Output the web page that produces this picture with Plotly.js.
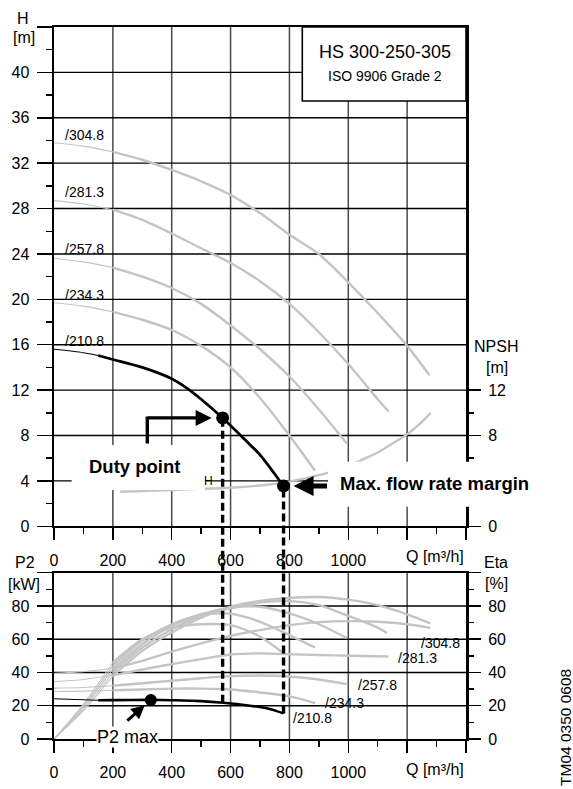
<!DOCTYPE html>
<html><head><meta charset="utf-8">
<script src="https://cdn.plot.ly/plotly-3.0.1.min.js"></script>
<style>html,body{margin:0;padding:0;background:#fff}#chart{width:573px;height:789px}</style>
</head><body><div id="chart"></div>
<script>
// ---------- DATA ----------
const impellerLabels = ['/304.8','/281.3','/257.8','/234.3','/210.8'];
const xTickVals = [0,200,400,600,800,1000,1200,1400];
const xTickText = ['0','200','400','600','800','1000','',''];
const hTicks = [0,4,8,12,16,20,24,28,32,36,40,44];
const npshTicks = [0,8,12];
const pTicks = [0,20,40,60,80,100];

// Head H [m]
const Q_h304 = [0,100,200,300,400,500,600,700,800,900,1000,1100,1200,1276];
const H_304  = [33.8,33.5,33.0,32.3,31.4,30.4,29.2,27.6,25.7,24.0,21.5,18.8,15.9,13.3];
const Q_h281 = [0,100,200,300,400,500,600,700,800,900,1000,1100,1137];
const H_281  = [28.7,28.4,27.9,27.0,25.8,24.5,23.2,21.6,19.6,17.1,14.3,11.2,10.1];
const Q_h258 = [0,100,200,300,400,500,600,700,800,900,995];
const H_258  = [23.6,23.3,22.8,22.0,21.0,19.6,17.7,15.6,13.2,10.3,7.3];
const Q_h234 = [0,100,200,300,400,500,600,700,800,887];
const H_234  = [19.7,19.4,18.9,18.2,17.3,15.9,14.0,11.3,8.0,4.9];
const Q_h211 = [0,100,150,200,300,400,450,500,575,650,700,780];
const H_211  = [15.6,15.3,15.05,14.7,14.0,13.0,12.2,11.2,9.5,7.6,6.3,3.55];

// NPSH [m]
const Q_npsh = [225,300,400,500,600,700,780,850,930,1000,1050,1100,1150,1200,1250,1280];
const NPSH   = [3.05,3.1,3.2,3.3,3.4,3.6,3.85,4.2,4.7,5.3,5.9,6.5,7.3,8.1,9.2,10.0];

// P2 [kW]
const Q_p304 = [0,100,200,300,400,500,600,700,800,900,1000,1100,1200,1279];
const P2_304 = [39.5,40.5,42.5,47,52.5,57.5,62,65.5,68.5,70.3,70.9,70.5,69,66.8];
const Q_p281 = [0,100,200,300,400,500,600,700,800,900,1000,1137];
const P2_281 = [34.6,35.8,38.3,41.8,45,48,50.8,51.5,51,50.5,50.1,49.6];
const Q_p258 = [0,100,200,300,400,500,600,700,800,900,995];
const P2_258 = [30.6,31,32,33.5,35,36.5,37.8,38.2,37.6,35.8,33];
const Q_p234 = [0,100,200,300,400,500,600,700,800,887];
const P2_234 = [28.6,28.8,29.3,29.8,30.3,30.3,29.8,28,25.6,21.6];
const Q_p211 = [0,100,150,200,330,400,500,575,666,720,780];
const P2_211 = [24.2,23.6,23.3,23.4,23.5,23.3,22.8,21.8,20,18.6,15.4];

// Eta [%]
const Q_e304 = [0,100,200,300,400,500,600,700,800,900,1000,1100,1200,1279];
const ETA_304 = [0,17,38,53,64,73,79.5,83,84.8,85.4,83.8,80.5,75,69.5];
const Q_e281 = [0,100,200,300,400,500,600,700,800,900,1000,1100,1131];
const ETA_281 = [0,18,40,55,66,74,78.5,82,83,80.5,74,67,63.8];
const Q_e258 = [0,100,200,300,400,500,600,700,800,900,995];
const ETA_258 = [0,19,42,57,68,75,79,79.5,75.5,69,60.7];
const Q_e234 = [0,100,200,300,400,500,600,700,800,887];
const ETA_234 = [0,20,44,59,69,74.5,75.3,70.5,62.5,55];
const Q_e211 = [0,100,200,300,400,500,600,700,780];
const ETA_211 = [0,21,46,60,67,69,68.5,61.5,51.6];

// Marked points: duty point, max. flow rate margin
const markQ  = [573, 780];
const markH  = [9.55, 3.55];
const markP2 = [21.8, 15.4];
const p2maxQ = [329];
const p2maxP = [23.5];

// ---------- LAYOUT HELPERS ----------
const W=573, HT=789, ML=54, MR=107, MT=27, MB=50;
const PW=W-ML-MR, PH=HT-MT-MB;
const px = v => (v-ML)/PW;
const py = v => (HT-MB-v)/PH;
const topDom = [py(526.3), 1];
const botDom = [0, py(572.7)];
const H_MAX = 44, P_MAX = 100, Q_MAX = 1400;
const topP = h => topDom[0] + h/H_MAX*(topDom[1]-topDom[0]);
const botP = p => botDom[0] + p/P_MAX*(botDom[1]-botDom[0]);

const GRAY = '#c4c4c4', BLACK = '#000';
const FONT = 'Liberation Sans, Arial, sans-serif';
const traces = [];

// grid lines as line traces built from the tick arrays (one trace per line)
function gridTraces(xa, ya, yTicks, yMax) {
  xTickVals.filter(v => v>0 && v<Q_MAX).forEach(v => {
    traces.push({x:[v,v], y:[0,yMax], xaxis:xa, yaxis:ya, mode:'lines', line:{color:'#4a4a4a', width:1.5}, hoverinfo:'skip'});
  });
  yTicks.filter(v => v>0 && v<yMax).forEach(v => {
    traces.push({x:[0,Q_MAX], y:[v,v], xaxis:xa, yaxis:ya, mode:'lines', line:{color:'#000', width:1.4}, hoverinfo:'skip'});
  });
}
gridTraces('x','y',hTicks,H_MAX);
gridTraces('x2','y2',pTicks,P_MAX);

function curve(q, v, xa, ya, color, splitQ, wThick) {
  let i = q.findIndex(x => x >= splitQ);
  traces.push({x:q.slice(0,i+1), y:v.slice(0,i+1), xaxis:xa, yaxis:ya, mode:'lines',
    line:{color:color, width:1.1, shape:'spline', smoothing:0.8}, hoverinfo:'skip'});
  traces.push({x:q.slice(i), y:v.slice(i), xaxis:xa, yaxis:ya, mode:'lines',
    line:{color:color, width:wThick, shape:'spline', smoothing:0.8}, hoverinfo:'skip'});
}
// Head
curve(Q_h304,H_304,'x','y',GRAY,200,2.4);
curve(Q_h281,H_281,'x','y',GRAY,200,2.4);
curve(Q_h258,H_258,'x','y',GRAY,200,2.4);
curve(Q_h234,H_234,'x','y',GRAY,200,2.4);
traces.push({x:Q_npsh,y:NPSH,xaxis:'x',yaxis:'y',mode:'lines',line:{color:GRAY,width:2.4,shape:'spline'},hoverinfo:'skip'});
curve(Q_h211,H_211,'x','y',BLACK,150,2.8);
// Bottom: eta then P2
curve(Q_e304,ETA_304,'x2','y2',GRAY,200,2.4);
curve(Q_e281,ETA_281,'x2','y2',GRAY,200,2.4);
curve(Q_e258,ETA_258,'x2','y2',GRAY,200,2.4);
curve(Q_e234,ETA_234,'x2','y2',GRAY,200,2.4);
curve(Q_e211,ETA_211,'x2','y2',GRAY,200,2.4);
curve(Q_p304,P2_304,'x2','y2',GRAY,200,2.4);
curve(Q_p281,P2_281,'x2','y2',GRAY,200,2.4);
curve(Q_p258,P2_258,'x2','y2',GRAY,200,2.4);
curve(Q_p234,P2_234,'x2','y2',GRAY,200,2.4);
curve(Q_p211,P2_211,'x2','y2',BLACK,150,2.6);
// markers
traces.push({x:markQ,y:markH,xaxis:'x',yaxis:'y',mode:'markers',marker:{color:BLACK,size:13},hoverinfo:'skip',cliponaxis:false});
traces.push({x:p2maxQ,y:p2maxP,xaxis:'x2',yaxis:'y2',mode:'markers',marker:{color:BLACK,size:12},hoverinfo:'skip',cliponaxis:false});
// invisible traces so the overlay axes render
traces.push({x:[0],y:[0],xaxis:'x',yaxis:'y3',mode:'markers',marker:{opacity:0},hoverinfo:'skip'});
traces.push({x:[0],y:[0],xaxis:'x2',yaxis:'y4',mode:'markers',marker:{opacity:0},hoverinfo:'skip'});

const tickFont = {family:FONT, size:16, color:'#000'};
const tk = {tickwidth:1.5, tickcolor:'#000', tickfont:tickFont, fixedrange:true, zeroline:false, showgrid:false};
function xAxis(anchor) {
  return Object.assign({range:[0,Q_MAX], domain:[0,1], anchor:anchor, tickmode:'array', tickvals:xTickVals, ticktext:xTickText,
    ticks:'outside', ticklen:12, ticklabelstandoff:6,
    minor:{tickmode:'linear', tick0:0, dtick:100, ticks:'outside', ticklen:6, tickwidth:1.5, tickcolor:'#000', showgrid:false},
    showline:true, linecolor:'#000', linewidth:2, mirror:true}, tk);
}
const layout = {
  width:W, height:HT, margin:{l:ML,r:MR,t:MT,b:MB,pad:0},
  paper_bgcolor:'#fff', plot_bgcolor:'rgba(0,0,0,0)', showlegend:false,
  font:{family:FONT, color:'#000'},
  xaxis: xAxis('y'),
  xaxis2: xAxis('y2'),
  yaxis:Object.assign({domain:topDom, range:[0,H_MAX], anchor:'x', tickmode:'array', tickvals:hTicks,
    ticktext:hTicks.map(v => v===H_MAX ? '' : String(v)),
    ticks:'outside', ticklen:15, ticklabelstandoff:4,
    minor:{tickmode:'linear', tick0:0, dtick:2, ticks:'outside', ticklen:6, tickwidth:1.5, tickcolor:'#000', showgrid:false},
    showline:true, linecolor:'#000', linewidth:2.5, mirror:true}, tk),
  yaxis3:Object.assign({overlaying:'y', side:'right', anchor:'x', range:[0,H_MAX], tickmode:'array', tickvals:npshTicks,
    ticktext:npshTicks.map(String), ticks:'outside', ticklen:14, ticklabelstandoff:4,
    minor:{tickmode:'array', tickvals:[2,4,6,10], ticks:'outside', ticklen:7, tickwidth:1.5, tickcolor:'#000', showgrid:false},
    showline:false}, tk),
  yaxis2:Object.assign({domain:botDom, range:[0,P_MAX], anchor:'x2', tickmode:'array', tickvals:pTicks,
    ticktext:pTicks.map(v => v===P_MAX ? '' : String(v)),
    ticks:'outside', ticklen:15, ticklabelstandoff:4,
    minor:{tickmode:'linear', tick0:0, dtick:10, ticks:'outside', ticklen:6, tickwidth:1.5, tickcolor:'#000', showgrid:false},
    showline:true, linecolor:'#000', linewidth:2.5, mirror:true}, tk),
  yaxis4:Object.assign({overlaying:'y2', side:'right', anchor:'x2', range:[0,P_MAX], tickmode:'array', tickvals:pTicks,
    ticktext:pTicks.map(v => v===P_MAX ? '' : String(v)), ticks:'outside', ticklen:14, ticklabelstandoff:4,
    minor:{tickmode:'linear', tick0:0, dtick:10, ticks:'outside', ticklen:7, tickwidth:1.5, tickcolor:'#000', showgrid:false},
    showline:false}, tk),
  shapes:[], annotations:[]
};

const S = layout.shapes, A = layout.annotations;
// white label boxes and title box
S.push({type:'rect', xref:'paper', yref:'paper', x0:px(71.7), x1:px(205), y0:py(490), y1:py(445), fillcolor:'#fff', line:{width:0}, layer:'above'});
S.push({type:'rect', xref:'paper', yref:'paper', x0:px(328), x1:px(541), y0:py(506.7), y1:py(461.7), fillcolor:'#fff', line:{width:0}, layer:'above'});
S.push({type:'rect', xref:'paper', yref:'paper', x0:px(302.3), x1:1, y0:py(101), y1:1, fillcolor:'#fff', line:{color:'#000', width:1.6}, layer:'above'});
// dashed drop lines from marked points
for (let i=0;i<markQ.length;i++) {
  S.push({type:'line', xref:'x', yref:'paper', x0:markQ[i], x1:markQ[i], y0:botP(markP2[i]), y1:topP(markH[i]),
    line:{color:'#000', width:3.4, dash:'8px,4px'}, layer:'above'});
}
// duty-point arrow vertical stem
S.push({type:'line', xref:'paper', yref:'paper', x0:px(147.3), x1:px(147.3), y0:py(443.5), y1:py(416.5), line:{color:'#000', width:3.4}, layer:'above'});
A.push({xref:'x', yref:'y', x:markQ[0], y:markH[0], ax:-76, ay:0, text:'', showarrow:true, arrowhead:2, arrowsize:1, arrowwidth:3.2, arrowcolor:'#000', standoff:11});
// max flow arrow (double line)
A.push({xref:'x', yref:'y', x:markQ[1], y:markH[1], ax:45, ay:0, text:'', showarrow:true, arrowhead:2, arrowsize:0.8, arrowwidth:5, arrowcolor:'#000', standoff:10});
S.push({type:'line', xref:'paper', yref:'paper', x0:px(302), x1:px(329), y0:py(485.7), y1:py(485.7), line:{color:'#fff', width:1.6}, layer:'above'});
// P2 max arrow
A.push({xref:'x2', yref:'y2', x:p2maxQ[0], y:p2maxP[0], ax:-25, ay:22, text:'', showarrow:true, arrowhead:2, arrowsize:0.9, arrowwidth:3, arrowcolor:'#000', standoff:8});

function txt(t, x, y, size, opts) {
  A.push(Object.assign({xref:'paper', yref:'paper', x:px(x), y:py(y), text:t, showarrow:false,
    font:{family:FONT, size:size, color:'#000'}, xanchor:'center', yanchor:'middle'}, opts||{}));
}
txt('HS 300-250-305', 385, 52, 18);
txt('ISO 9906 Grade 2', 385, 75.7, 14);
txt('<b>Duty point</b>', 134.5, 466.7, 18.5);
txt('<b>Max. flow rate margin</b>', 434, 483, 18.5);
txt('H', 23.3, 18.3, 16);
txt('[m]', 24, 37.7, 16);
txt('NPSH', 496.3, 346.7, 16);
txt('[m]', 496.7, 367.3, 16);
txt('P2', 25, 562, 16);
txt('[kW]', 24, 584, 16);
txt('Eta', 496, 562.7, 16);
txt('[%]', 496.3, 583.7, 16);
txt('Q [m³/h]', 465.7, 556, 16, {xanchor:'right'});
txt('Q [m³/h]', 465.7, 769.3, 16, {xanchor:'right'});
txt('H', 214.7, 480.5, 12, {xanchor:'right'});
txt('P2 max', 127.5, 736.5, 18, {bgcolor:'#fff', borderpad:0});
txt('TM04 0350 0608', 565, 728, 15.5, {textangle:-90});
const topLblY = [135, 192.3, 249.3, 295, 340.7];
const botLblX = [419, 395.7, 356, 323.3, 291];
const botLblY = [643.3, 658.3, 685, 703.3, 718.3];
impellerLabels.forEach((l,i) => {
  txt(l, 62.5, topLblY[i], 14, {xanchor:'left'});
  txt(l, botLblX[i], botLblY[i], 14, {xanchor:'left'});
});

Plotly.newPlot('chart', traces, layout, {staticPlot:true, displayModeBar:false});
</script>
</body></html>
